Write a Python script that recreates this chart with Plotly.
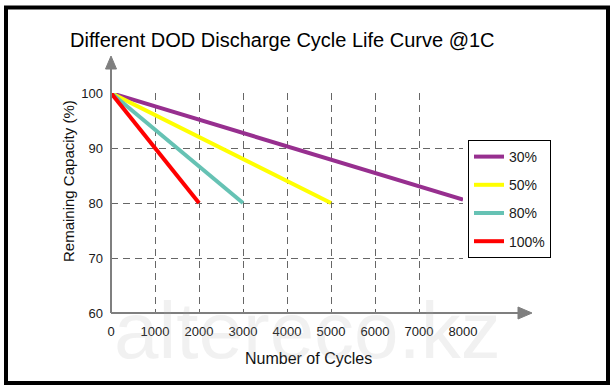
import plotly.graph_objects as go

# ---- data ----
series_names = ["30%", "50%", "80%", "100%"]
series_colors = ["#972f8f", "#ffff00", "#66c2b4", "#ff0000"]
cycles = {
    "30%": [0, 8000],
    "50%": [0, 5000],
    "80%": [0, 3000],
    "100%": [0, 2000],
}
capacity = {
    "30%": [100, 80.6],
    "50%": [100, 80],
    "80%": [100, 80],
    "100%": [100, 80],
}
x_ticks = [0, 1000, 2000, 3000, 4000, 5000, 6000, 7000, 8000]
y_ticks = [60, 70, 80, 90, 100]

W, H = 614, 390
L, R, T, B = 111, 151, 93, 77
PW, PH = W - L - R, H - T - B


def px(x):
    return (x - L) / PW


def py(y):
    return (H - B - y) / PH


FONT = "Arial, Liberation Sans, sans-serif"

fig = go.Figure()
for i, name in enumerate(series_names):
    fig.add_trace(go.Scatter(
        x=cycles[name], y=capacity[name], mode="lines", name=name,
        line=dict(color=series_colors[i], width=4),
        legendgroup=name, hoverinfo="skip",
    ))

axis_col = "#7f7f7f"
shapes = [
    # x axis with arrow
    dict(type="line", xref="paper", yref="paper", x0=0, y0=0, x1=px(519), y1=0,
         line=dict(color=axis_col, width=2)),
    dict(type="path", xref="paper", yref="paper",
         path=f"M {px(518)} {py(307)} L {px(532)} {py(313)} L {px(518)} {py(319)} Z",
         fillcolor=axis_col, line=dict(color=axis_col, width=1)),
    # y axis with arrow
    dict(type="line", xref="paper", yref="paper", x0=0, y0=0, x1=0, y1=py(68),
         line=dict(color=axis_col, width=2)),
    dict(type="path", xref="paper", yref="paper",
         path=f"M {px(105.5)} {py(69)} L {px(111)} {py(56)} L {px(116.5)} {py(69)} Z",
         fillcolor=axis_col, line=dict(color=axis_col, width=1)),
    # outer black frame
    dict(type="rect", xref="paper", yref="paper",
         x0=px(6), x1=px(608), y0=py(383), y1=py(7.5),
         line=dict(color="black", width=4)),
]

annotations = [
    dict(text="Number of Cycles", xref="paper", yref="paper", x=px(308), y=py(358),
         showarrow=False, xanchor="center", yanchor="middle",
         font=dict(family=FONT, size=16, color="#111")),
    dict(text="Remaining Capacity (%)", xref="paper", yref="paper", x=px(68), y=py(181),
         showarrow=False, textangle=-90, xanchor="center", yanchor="middle",
         font=dict(family=FONT, size=15, color="#111")),
    dict(text="altereco.kz", xref="paper", yref="paper", x=px(307), y=py(330),
         showarrow=False, xanchor="center", yanchor="middle",
         font=dict(family=FONT, size=80, color="rgba(170,170,170,0.16)")),
]

fig.update_layout(
    width=W, height=H, autosize=False,
    margin=dict(l=L, r=R, t=T, b=B, pad=0),
    paper_bgcolor="white", plot_bgcolor="white",
    title=dict(text="Different DOD Discharge Cycle Life Curve @1C",
               xref="container", yref="container", x=70 / W, xanchor="left",
               y=1 - 40 / H, yanchor="middle",
               font=dict(family=FONT, size=20, color="black")),
    xaxis=dict(range=[0, 8000], tickvals=x_ticks, ticktext=[str(v) for v in x_ticks],
               showgrid=True, gridcolor="#666", gridwidth=1, griddash="7px,5px",
               zeroline=False, showline=False, ticks="", ticklabelstandoff=9,
               tickfont=dict(family=FONT, size=13, color="#1a1a1a"), fixedrange=True),
    yaxis=dict(range=[60, 100], tickvals=y_ticks, ticktext=[str(v) for v in y_ticks],
               showgrid=True, gridcolor="#666", gridwidth=1, griddash="7px,5px",
               zeroline=False, showline=False, ticks="", ticklabelstandoff=7,
               tickfont=dict(family=FONT, size=13, color="#1a1a1a"), fixedrange=True),
    showlegend=True,
    legend=dict(x=px(468), y=py(140), xanchor="left", yanchor="top",
                bordercolor="black", borderwidth=1, bgcolor="white",
                traceorder="grouped", tracegroupgap=7, itemwidth=30,
                font=dict(family=FONT, size=14, color="#1a1a1a")),
    shapes=shapes,
    annotations=annotations,
)

fig.write_html("out.html", config={"displayModeBar": False},
               post_script="document.body.style.margin='0';document.body.style.padding='0';")
